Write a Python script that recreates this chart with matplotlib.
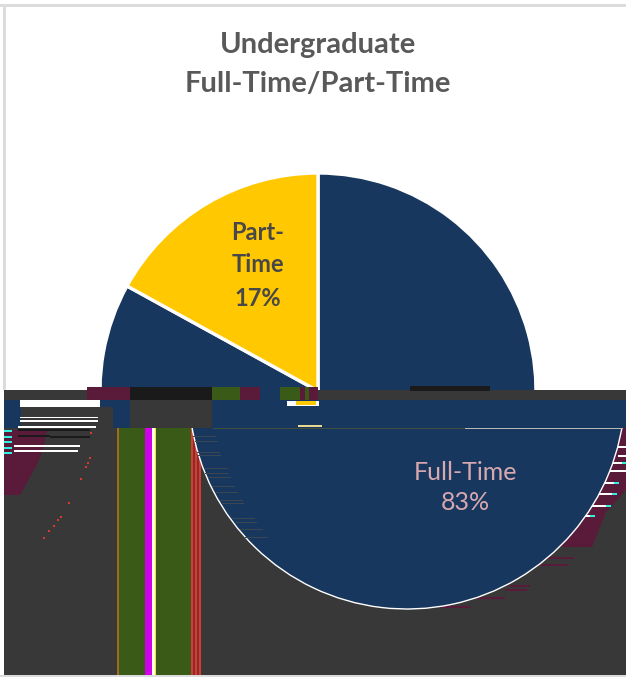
import matplotlib
matplotlib.use('Agg')
import matplotlib.pyplot as plt
from matplotlib.patches import Rectangle, Polygon

labels = ['Full-Time', 'Part-Time']
shares = [83, 17]
pie_colors = ['#17375e', '#ffc800']
title_lines = ['Undergraduate', 'Full-Time/Part-Time']

W, H = 626, 677
GRAY = '#383838'
NAVY = '#17375e'
MAROON = '#5a1a3a'
GREEN = '#3a5a17'
BLACK = '#1a1a1a'
RED = '#d83a30'

plt.rcParams['font.family'] = ['Lato', 'DejaVu Sans']

fig = plt.figure(figsize=(W / 100, H / 100), dpi=100)


def pixel_axes(y0, y1, z):
    # axes whose data units are pixels, y counted up from the picture's bottom
    a = fig.add_axes([0, 1 - y1 / H, 1, (y1 - y0) / H], zorder=z)
    return a


def fix_limits(a, y0, y1):
    a.set_xlim(0, W)
    a.set_ylim(H - y1, H - y0)
    a.set_aspect('auto')
    a.axis('off')


def box(a, x0, y0, x1, y1, color):
    a.add_patch(Rectangle((x0, H - y1), x1 - x0, y1 - y0, facecolor=color, edgecolor='none'))


def draw_pie(cx, y0, y1, z, lw):
    a = pixel_axes(y0, y1, z)
    # pie turns clipping off by default, it is needed here to cut the two pieces
    a.pie(shares, colors=pie_colors, startangle=90, counterclock=False,
          center=(cx, H - 391), radius=218,
          wedgeprops=dict(edgecolor='white', linewidth=lw, clip_on=True))
    fix_limits(a, y0, y1)


# background layer
bg = pixel_axes(0, H, 0)
box(bg, 0, 4, W, 7, '#dcdcdc')
box(bg, 3, 4, 6, 390, '#dcdcdc')
box(bg, 0, 675, W, 677, '#dcdcdc')
box(bg, 4, 428, W, 675, GRAY)
for x0, x1, c in [(117, 119, '#a06a20'), (119, 145, GREEN), (145, 152, '#d000e8'), (152, 155, 'white'),
                  (155, 156, '#f0f000'), (156, 191, GREEN), (191, 193, RED), (193, 195, '#803030'),
                  (195, 197, RED), (197, 199, '#803030'), (199, 201, RED)]:
    box(bg, x0, 428, x1, 675, c)

# smeared pixels spilling round the right edge
bg.add_patch(Polygon([(560, H - 428), (626, H - 428), (626, H - 490), (606, H - 512), (592, H - 547), (555, H - 547)],
                     facecolor=MAROON, edgecolor='none'))
bg.add_patch(Polygon([(4, H - 430), (47, H - 430), (44, H - 445), (40, H - 458), (35, H - 468), (20, H - 495), (4, H - 495)],
                     facecolor=MAROON, edgecolor='none'))
for y, x0, x1 in [(557, 545, 574), (564, 540, 568), (585, 510, 530), (589, 505, 527), (597, 475, 505), (606, 440, 470)]:
    box(bg, x0, y, x1, y + 2, MAROON)
for y, x0, x1 in [(446, 612, 626), (455, 618, 626), (462, 606, 622), (470, 610, 626), (482, 604, 614),
                  (493, 596, 612), (505, 592, 606), (515, 576, 590)]:
    box(bg, x0, y, x1, y + 1.5, 'white')
    box(bg, x1, y, x1 + 5, y + 1.5, '#30f0e0')
for y in [430, 436, 441, 447, 452]:
    box(bg, 4, y, 12, y + 2, '#30f0e0')
for y, x0, x1 in [(445, 14, 80), (450, 14, 78)]:
    box(bg, x0, y, x1, y + 1.5, 'white')
for y, x0, x1 in [(429, 18, 90), (435, 18, 50), (436, 50, 90)]:
    box(bg, x0, y, x1, y + 1.5, BLACK)
for x, y in [(90, 432), (89, 457), (87, 462), (85, 466), (80, 478), (68, 502), (60, 516), (57, 519), (53, 525), (48, 530), (43, 537)]:
    box(bg, x, y, x + 2, y + 2, RED)
fix_limits(bg, 0, H)

draw_pie(318, 0, 390, 1, 2.4)
draw_pie(407, 428, H, 1, 1.0)

# torn strips and text on top
top = pixel_axes(0, H, 2)
top.patch.set_alpha(0)
box(top, 4, 390, W, 400, GRAY)
for x0, x1, c in [(87, 130, MAROON), (130, 212, BLACK), (212, 240, GREEN), (240, 260, MAROON), (260, 280, NAVY),
                  (280, 300, GREEN), (300, 305, MAROON), (305, 309, GREEN), (309, 318, MAROON)]:
    box(top, x0, 387, x1, 400, c)
box(top, 410, 386, 490, 391, BLACK)
box(top, 4, 400, W, 428, NAVY)
box(top, 20, 400, 100, 407, 'white')
box(top, 21, 407, 113, 428, GRAY)
box(top, 130, 400, 212, 428, GRAY)
for y, x0, x1 in [(416.5, 20, 98), (420, 20, 98), (426, 18, 96)]:
    box(top, x0, y, x1, y + 1.5, 'white')
box(top, 287, 401, 319, 406, 'white')
box(top, 296, 401, 316, 405, '#ffc800')
box(top, 298, 425, 322, 427, '#e8d890')
box(top, 213, 428, 465, 429, '#40503a')
box(top, 465, 427.5, 623, 429, '#b8b8b8')
for y, x0 in [(436, 193), (441, 195), (452, 197), (455, 198), (468, 205), (473, 205), (477, 208), (486, 212),
              (492, 215), (500, 220), (503, 221), (518, 232), (522, 234), (529, 240), (537, 245)]:
    box(top, x0, y, x0 + 23, y + 1, '#3a4650')

for text, y in zip(title_lines, [45, 84]):
    top.text(318, H - y, text, ha='center', va='center', fontsize=21, fontweight='bold', color='#595959')

for text, y in zip(['Part-', 'Time', f'{shares[1]}%'], [232, 265, 298]):
    top.text(258, H - y, text, ha='center', va='center', fontsize=17, fontweight='bold', color='#484848')

for text, y in zip([labels[0], f'{shares[0]}%'], [472, 502]):
    top.text(465, H - y, text, ha='center', va='center', fontsize=18, color='#d8a8b0')
fix_limits(top, 0, H)

fig.savefig('out.png', dpi=100)
